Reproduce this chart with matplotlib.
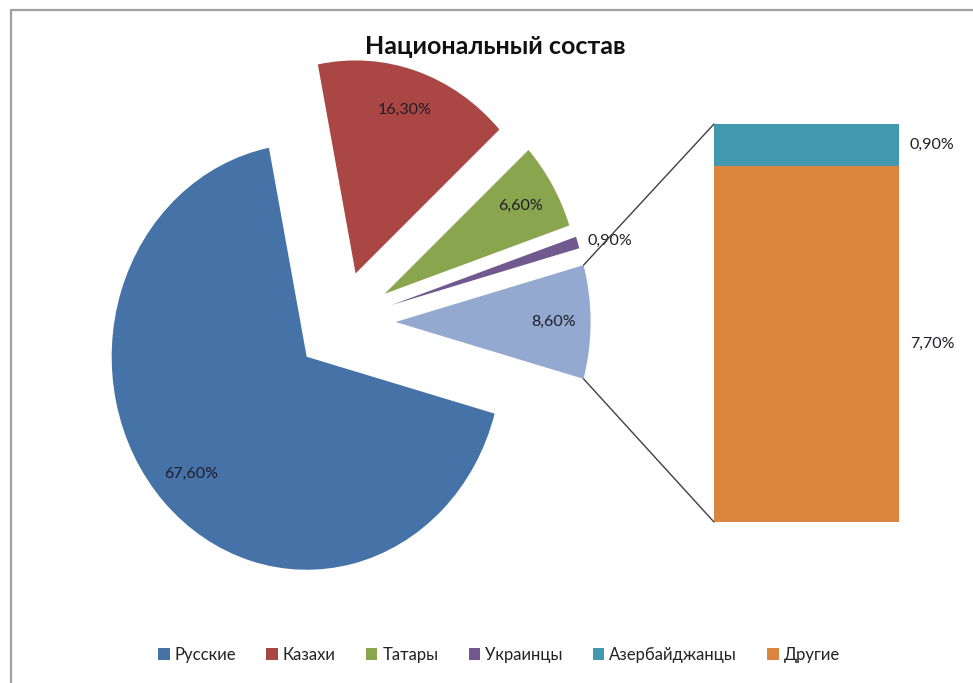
import math

import matplotlib

matplotlib.use("Agg")
import matplotlib.pyplot as plt
from matplotlib.patches import ConnectionPatch, Rectangle

plt.rcParams["font.family"] = ["Lato", "DejaVu Sans"]

# data (percent)
pie_labels = ["Русские", "Казахи", "Татары", "Украинцы"]
pie_values = [67.6, 16.3, 6.6, 0.9]
other_labels = ["Азербайджанцы", "Другие"]
other_values = [0.9, 7.7]
title = "Национальный состав"

pie_colors = ["#4572A7", "#AA4643", "#89A54E", "#71588F"]
other_color = "#93A9CF"
bar_colors = ["#4198AF", "#DB843D"]
text_color = "#1E1E28"

W, H = 973, 683
# pie geometry in pixels (reference picture is slightly stretched vertically)
cx, cy, rx, ry = 341, 322, 195, 213


def fmt(p):
    return f"{p:.2f}%".replace(".", ",")


other_total = sum(other_values)
# Excel order: "other" slice centred at 3 o'clock, the rest counter-clockwise
values = [other_total] + pie_values[::-1]
colors = [other_color] + pie_colors[::-1]
explode = [0.28, 0.27, 0.26, 0.24, 0.24]
start = -other_total / sum(values) * 360 / 2

fig = plt.figure(figsize=(W / 100, H / 100), dpi=100)
fig.patches.append(Rectangle((11 / W, -0.1), 1.2, 1 - 10 / H + 0.1,
                             transform=fig.transFigure, fill=False,
                             edgecolor="#a0a0a0", lw=1.6))

ax = fig.add_axes([0, 0, 1, 1])
wedges, texts, autotexts = ax.pie(
    values, explode=explode, colors=colors, startangle=start,
    autopct=fmt, pctdistance=0.81, radius=1,
    wedgeprops=dict(linewidth=0),
    textprops=dict(fontsize=11.5, color=text_color))
ax.set_aspect("auto")
ax.set_xlim(-cx / rx, (W - cx) / rx)
ax.set_ylim(-(H - cy) / ry, cy / ry)
ax.axis("off")

# tiny slice: label sits outside
w = wedges[1]
mid = math.radians((w.theta1 + w.theta2) / 2 - 2)
autotexts[1].set_position((w.center[0] + 1.16 * math.cos(mid),
                           w.center[1] + 1.16 * math.sin(mid)))

# breakdown of the "other" slice as a stacked bar
bax = fig.add_axes([714 / W, (H - 522) / H, 185 / W, 398 / H])
bottom = 0
bars = []
for lab, val, col in zip(other_labels[::-1], other_values[::-1], bar_colors[::-1]):
    b = bax.bar(0, val, width=1, bottom=bottom, color=col, label=lab)
    bars.append(b)
    bax.annotate(fmt(val), (0.5, bottom + val / 2), xytext=(11, 0),
                 textcoords="offset pixels", ha="left", va="center",
                 fontsize=11.5, color=text_color, annotation_clip=False)
    bottom += val
bax.set_xlim(-0.5, 0.5)
bax.set_ylim(0, other_total)
bax.axis("off")

# connector lines from the "other" slice to the bar
ow = wedges[0]
for theta, yb in ((ow.theta2, other_total), (ow.theta1, 0)):
    t = math.radians(theta)
    p = (ow.center[0] + math.cos(t), ow.center[1] + math.sin(t))
    con = ConnectionPatch(xyA=p, coordsA=ax.transData, xyB=(-0.5, yb),
                          coordsB=bax.transData, color="#404040", lw=1)
    fig.add_artist(con)

fig.text(495 / W, 1 - 47 / H, title, ha="center", va="center",
         fontsize=18, fontweight="bold", color="#111111")

handles = [wedges[4], wedges[3], wedges[2], wedges[1], bars[1], bars[0]]
fig.legend(handles, pie_labels + other_labels, loc="center",
           bbox_to_anchor=(499 / W, 1 - 655 / H), ncol=6, frameon=False,
           handlelength=0.7, handleheight=0.7, handletextpad=0.3,
           columnspacing=1.8, fontsize=12, labelcolor="#222222")

fig.savefig("out.png", dpi=100)
